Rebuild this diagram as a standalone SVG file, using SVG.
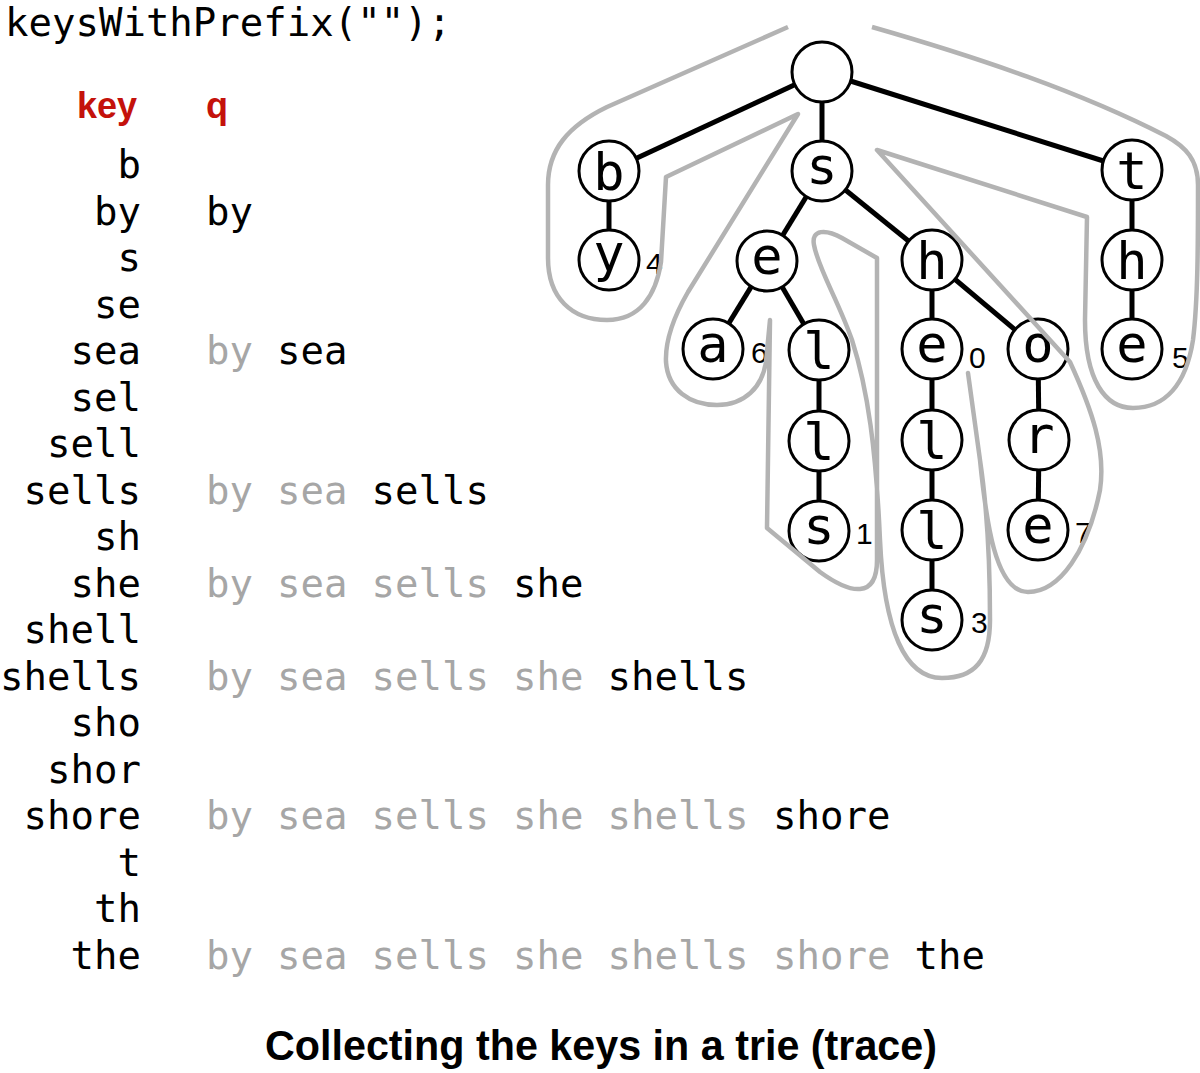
<svg xmlns="http://www.w3.org/2000/svg" width="1200" height="1073" viewBox="0 0 1200 1073">
<style>
.mono{font-family:"DejaVu Sans Mono","Liberation Mono",monospace;font-size:39px;fill:#000}
.key{text-anchor:end}
.old{fill:#a6a6a6}
.hdr{font-family:"Liberation Sans",Arial,sans-serif;font-weight:bold;font-size:36px;fill:#c4120b}
.title{font-family:"Liberation Sans",Arial,sans-serif;font-weight:bold;font-size:42px;fill:#000}
.node circle{fill:#fff;stroke:#000;stroke-width:3}
.node text.ch{font-family:"DejaVu Sans Mono","Liberation Mono",monospace;font-size:52px;text-anchor:middle;fill:#000}
.node text.val{font-family:"Liberation Sans",Arial,sans-serif;font-size:30px;fill:#000}
#links line{stroke:#000;stroke-width:5}
#trace path{fill:none;stroke:#b3b3b3;stroke-width:4.5;stroke-linejoin:round;stroke-linecap:butt}
</style>
<rect width="1200" height="1073" fill="#fff"/>

<text class="mono" x="5" y="36">keysWithPrefix("");</text>

<text class="hdr" x="137" y="118" text-anchor="end">key</text>
<text class="hdr" x="206" y="118">q</text>

<g id="keys">
<text class="mono key" x="141" y="178">b</text>
<text class="mono key" x="141" y="224.5">by</text>
<text class="mono key" x="141" y="271">s</text>
<text class="mono key" x="141" y="317.5">se</text>
<text class="mono key" x="141" y="364">sea</text>
<text class="mono key" x="141" y="410.5">sel</text>
<text class="mono key" x="141" y="457">sell</text>
<text class="mono key" x="141" y="503.5">sells</text>
<text class="mono key" x="141" y="550">sh</text>
<text class="mono key" x="141" y="596.5">she</text>
<text class="mono key" x="141" y="643">shell</text>
<text class="mono key" x="141" y="689.5">shells</text>
<text class="mono key" x="141" y="736">sho</text>
<text class="mono key" x="141" y="782.5">shor</text>
<text class="mono key" x="141" y="829">shore</text>
<text class="mono key" x="141" y="875.5">t</text>
<text class="mono key" x="141" y="922">th</text>
<text class="mono key" x="141" y="968.5">the</text>
</g>

<g id="queue">
<text class="mono" y="224.5"><tspan x="206">by</tspan></text>
<text class="mono" y="364"><tspan class="old" x="206">by</tspan><tspan x="277">sea</tspan></text>
<text class="mono" y="503.5"><tspan class="old" x="206">by</tspan><tspan class="old" x="277">sea</tspan><tspan x="371.5">sells</tspan></text>
<text class="mono" y="596.5"><tspan class="old" x="206">by</tspan><tspan class="old" x="277">sea</tspan><tspan class="old" x="371.5">sells</tspan><tspan x="513">she</tspan></text>
<text class="mono" y="689.5"><tspan class="old" x="206">by</tspan><tspan class="old" x="277">sea</tspan><tspan class="old" x="371.5">sells</tspan><tspan class="old" x="513">she</tspan><tspan x="607.5">shells</tspan></text>
<text class="mono" y="829"><tspan class="old" x="206">by</tspan><tspan class="old" x="277">sea</tspan><tspan class="old" x="371.5">sells</tspan><tspan class="old" x="513">she</tspan><tspan class="old" x="607.5">shells</tspan><tspan x="773">shore</tspan></text>
<text class="mono" y="968.5"><tspan class="old" x="206">by</tspan><tspan class="old" x="277">sea</tspan><tspan class="old" x="371.5">sells</tspan><tspan class="old" x="513">she</tspan><tspan class="old" x="607.5">shells</tspan><tspan class="old" x="773">shore</tspan><tspan x="914.5">the</tspan></text>
</g>

<g id="links">
<line x1="822" y1="72" x2="609" y2="171"/>
<line x1="822" y1="72" x2="822" y2="171"/>
<line x1="822" y1="72" x2="1132" y2="170"/>
<line x1="609" y1="171" x2="609" y2="260"/>
<line x1="822" y1="171" x2="767" y2="261"/>
<line x1="822" y1="171" x2="932" y2="260"/>
<line x1="1132" y1="170" x2="1132" y2="260"/>
<line x1="767" y1="261" x2="713" y2="349"/>
<line x1="767" y1="261" x2="819" y2="350"/>
<line x1="932" y1="260" x2="932" y2="349"/>
<line x1="932" y1="260" x2="1038" y2="349"/>
<line x1="1132" y1="260" x2="1132" y2="349"/>
<line x1="819" y1="350" x2="819" y2="441"/>
<line x1="932" y1="349" x2="932" y2="440"/>
<line x1="1038" y1="349" x2="1039" y2="440"/>
<line x1="819" y1="441" x2="819" y2="531"/>
<line x1="932" y1="440" x2="932" y2="530"/>
<line x1="1039" y1="440" x2="1038" y2="530"/>
<line x1="932" y1="530" x2="932" y2="620"/>
</g>

<g id="n-root" class="node"><circle cx="822" cy="72" r="30"/></g>
<g id="n-b" class="node"><circle cx="609" cy="171" r="30"/><text class="ch" x="609" y="190">b</text></g>
<g id="n-s" class="node"><circle cx="822" cy="171" r="30"/><text class="ch" x="822" y="184">s</text></g>
<g id="n-t" class="node"><circle cx="1132" cy="170" r="30"/><text class="ch" x="1132" y="189">t</text></g>
<g id="n-by" class="node"><circle cx="609" cy="260" r="30"/><text class="ch" x="609" y="271">y</text><text class="val" x="646" y="274">4</text></g>
<g id="n-se" class="node"><circle cx="767" cy="261" r="30"/><text class="ch" x="767" y="274">e</text></g>
<g id="n-sh" class="node"><circle cx="932" cy="260" r="30"/><text class="ch" x="932" y="279">h</text></g>
<g id="n-th" class="node"><circle cx="1132" cy="260" r="30"/><text class="ch" x="1132" y="279">h</text></g>
<g id="n-sea" class="node"><circle cx="713" cy="349" r="30"/><text class="ch" x="713" y="362">a</text><text class="val" x="751" y="363">6</text></g>
<g id="n-sel" class="node"><circle cx="819" cy="350" r="30"/><text class="ch" x="819" y="369">l</text></g>
<g id="n-she" class="node"><circle cx="932" cy="349" r="30"/><text class="ch" x="932" y="362">e</text><text class="val" x="969" y="368">0</text></g>
<g id="n-sho" class="node"><circle cx="1038" cy="349" r="30"/><text class="ch" x="1038" y="362">o</text></g>
<g id="n-the" class="node"><circle cx="1132" cy="349" r="30"/><text class="ch" x="1132" y="362">e</text><text class="val" x="1172" y="368">5</text></g>
<g id="n-sell" class="node"><circle cx="819" cy="441" r="30"/><text class="ch" x="819" y="460">l</text></g>
<g id="n-shel" class="node"><circle cx="932" cy="440" r="30"/><text class="ch" x="932" y="459">l</text></g>
<g id="n-shor" class="node"><circle cx="1039" cy="440" r="30"/><text class="ch" x="1039" y="453">r</text></g>
<g id="n-sells" class="node"><circle cx="819" cy="531" r="30"/><text class="ch" x="819" y="544">s</text><text class="val" x="856" y="544">1</text></g>
<g id="n-shell" class="node"><circle cx="932" cy="530" r="30"/><text class="ch" x="932" y="549">l</text></g>
<g id="n-shore" class="node"><circle cx="1038" cy="530" r="30"/><text class="ch" x="1038" y="543">e</text><text class="val" x="1075" y="543">7</text></g>
<g id="n-shells" class="node"><circle cx="932" cy="620" r="30"/><text class="ch" x="932" y="633">s</text><text class="val" x="971" y="633">3</text></g>

<g id="trace">
<path d="M 788 27 L 607 107 C 568 126 548 150 548 185 L 548 258 C 548 298 572 320 607 320 C 640 320 656 295 661 262 L 666 177 L 798 114 L 688 292 C 673 318 665 340 666 362 C 668 390 690 405 717 405 C 745 405 762 387 766 362 L 770 320 L 767 528 L 820 572 C 838 585 850 590 860 589 C 872 588 877 578 877 560 L 877 258 L 842 238 C 826 229 811 229 814 245 C 818 268 838 300 852 340 C 868 390 876 450 880 540 C 884 630 905 678 942 678 C 975 678 990 660 990 620 C 990 560 986 500 980 460 L 968 373 L 980 460 C 986 520 995 592 1028 592 C 1060 592 1088 550 1100 490 C 1106 450 1092 410 1070 362 L 877 150 L 1087 217 L 1085 320 C 1085 380 1105 408 1133 408 C 1165 408 1186 385 1193 340 C 1198 300 1198 240 1198 185 C 1198 160 1186 147 1166 136 C 1080 92 980 58 872 27"/>
</g>

<text class="title" x="265" y="1060" textLength="672" lengthAdjust="spacingAndGlyphs">Collecting the keys in a trie (trace)</text>
</svg>
